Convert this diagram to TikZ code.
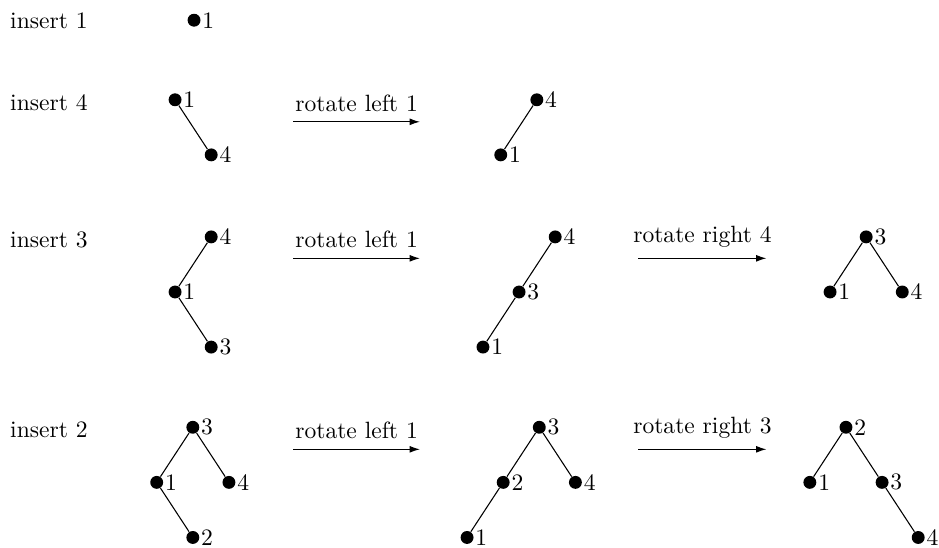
\documentclass[11pt,tikz,border=0pt]{standalone}
\usepackage{tikz}
\usetikzlibrary{arrows.meta, positioning}
\tikzset{
  vert/.style={circle, fill=black, inner sep=0pt, minimum size=6pt},
  every label/.append style={inner sep=0.5pt},
  edge/.style={line width=0.5pt},
  rot/.style={-{Latex[length=4.8pt, width=3.2pt]}, line width=0.5pt},
  rowlabel/.style={anchor=base west, inner sep=0pt}
}
\begin{document}
\begin{tikzpicture}[on grid, node distance=0.9cm and 0.59cm]
  \useasboundingbox (0,0) rectangle (15.34,-8.94);

  % insert 1
  \node[rowlabel] (ins1) at (0.16,-0.47) {insert 1};
  \node[vert, label=right:1] (r1_1) at (3.17,-0.33) {};

  % insert 4
  \node[rowlabel] (ins4) at (0.16,-1.81) {insert 4};
  \node[vert, label=right:1] (r2a_1) at (2.86,-1.63) {};
  \node[vert, label=right:4, below right=of r2a_1] (r2a_4) {};
  \draw[edge] (r2a_1) -- (r2a_4);

  \coordinate (r2_s) at (4.79,-1.99);
  \coordinate (r2_e) at (6.86,-1.99);
  \draw[rot] (r2_s) -- (r2_e) node[midway, above=1pt] {rotate left 1};

  \node[vert, label=right:4] (r2b_4) at (8.77,-1.63) {};
  \node[vert, label=right:1, below left=of r2b_4] (r2b_1) {};
  \draw[edge] (r2b_4) -- (r2b_1);

  % insert 3
  \node[rowlabel] (ins3) at (0.16,-4.04) {insert 3};
  \node[vert, label=right:4] (r3a_4) at (3.45,-3.87) {};
  \node[vert, label=right:1, below left=of r3a_4] (r3a_1) {};
  \node[vert, label=right:3, below right=of r3a_1] (r3a_3) {};
  \draw[edge] (r3a_4) -- (r3a_1) -- (r3a_3);

  \coordinate (r3_s1) at (4.79,-4.22);
  \coordinate (r3_e1) at (6.86,-4.22);
  \draw[rot] (r3_s1) -- (r3_e1) node[midway, above=1pt] {rotate left 1};

  \node[vert, label=right:4] (r3b_4) at (9.07,-3.87) {};
  \node[vert, label=right:3, below left=of r3b_4] (r3b_3) {};
  \node[vert, label=right:1, below left=of r3b_3] (r3b_1) {};
  \draw[edge] (r3b_4) -- (r3b_3) -- (r3b_1);

  \coordinate (r3_s2) at (10.43,-4.22);
  \coordinate (r3_e2) at (12.52,-4.22);
  \draw[rot] (r3_s2) -- (r3_e2) node[midway, above=1pt] {rotate right 4};

  \node[vert, label=right:3] (r3c_3) at (14.15,-3.87) {};
  \node[vert, label=right:1, below left=of r3c_3] (r3c_1) {};
  \node[vert, label=right:4, below right=of r3c_3] (r3c_4) {};
  \draw[edge] (r3c_1) -- (r3c_3) -- (r3c_4);

  % insert 2
  \node[rowlabel] (ins2) at (0.16,-7.14) {insert 2};
  \node[vert, label=right:3] (r4a_3) at (3.15,-6.98) {};
  \node[vert, label=right:1, below left=of r4a_3] (r4a_1) {};
  \node[vert, label=right:4, below right=of r4a_3] (r4a_4) {};
  \node[vert, label=right:2, below right=of r4a_1] (r4a_2) {};
  \draw[edge] (r4a_2) -- (r4a_1) -- (r4a_3) -- (r4a_4);

  \coordinate (r4_s1) at (4.79,-7.34);
  \coordinate (r4_e1) at (6.86,-7.34);
  \draw[rot] (r4_s1) -- (r4_e1) node[midway, above=1pt] {rotate left 1};

  \node[vert, label=right:3] (r4b_3) at (8.81,-6.98) {};
  \node[vert, label=right:2, below left=of r4b_3] (r4b_2) {};
  \node[vert, label=right:4, below right=of r4b_3] (r4b_4) {};
  \node[vert, label=right:1, below left=of r4b_2] (r4b_1) {};
  \draw[edge] (r4b_1) -- (r4b_2) -- (r4b_3) -- (r4b_4);

  \coordinate (r4_s2) at (10.43,-7.34);
  \coordinate (r4_e2) at (12.52,-7.34);
  \draw[rot] (r4_s2) -- (r4_e2) node[midway, above=1pt] {rotate right 3};

  \node[vert, label=right:2] (r4c_2) at (13.82,-6.98) {};
  \node[vert, label=right:1, below left=of r4c_2] (r4c_1) {};
  \node[vert, label=right:3, below right=of r4c_2] (r4c_3) {};
  \node[vert, label=right:4, below right=of r4c_3] (r4c_4) {};
  \draw[edge] (r4c_1) -- (r4c_2) -- (r4c_3) -- (r4c_4);
\end{tikzpicture}
\end{document}
